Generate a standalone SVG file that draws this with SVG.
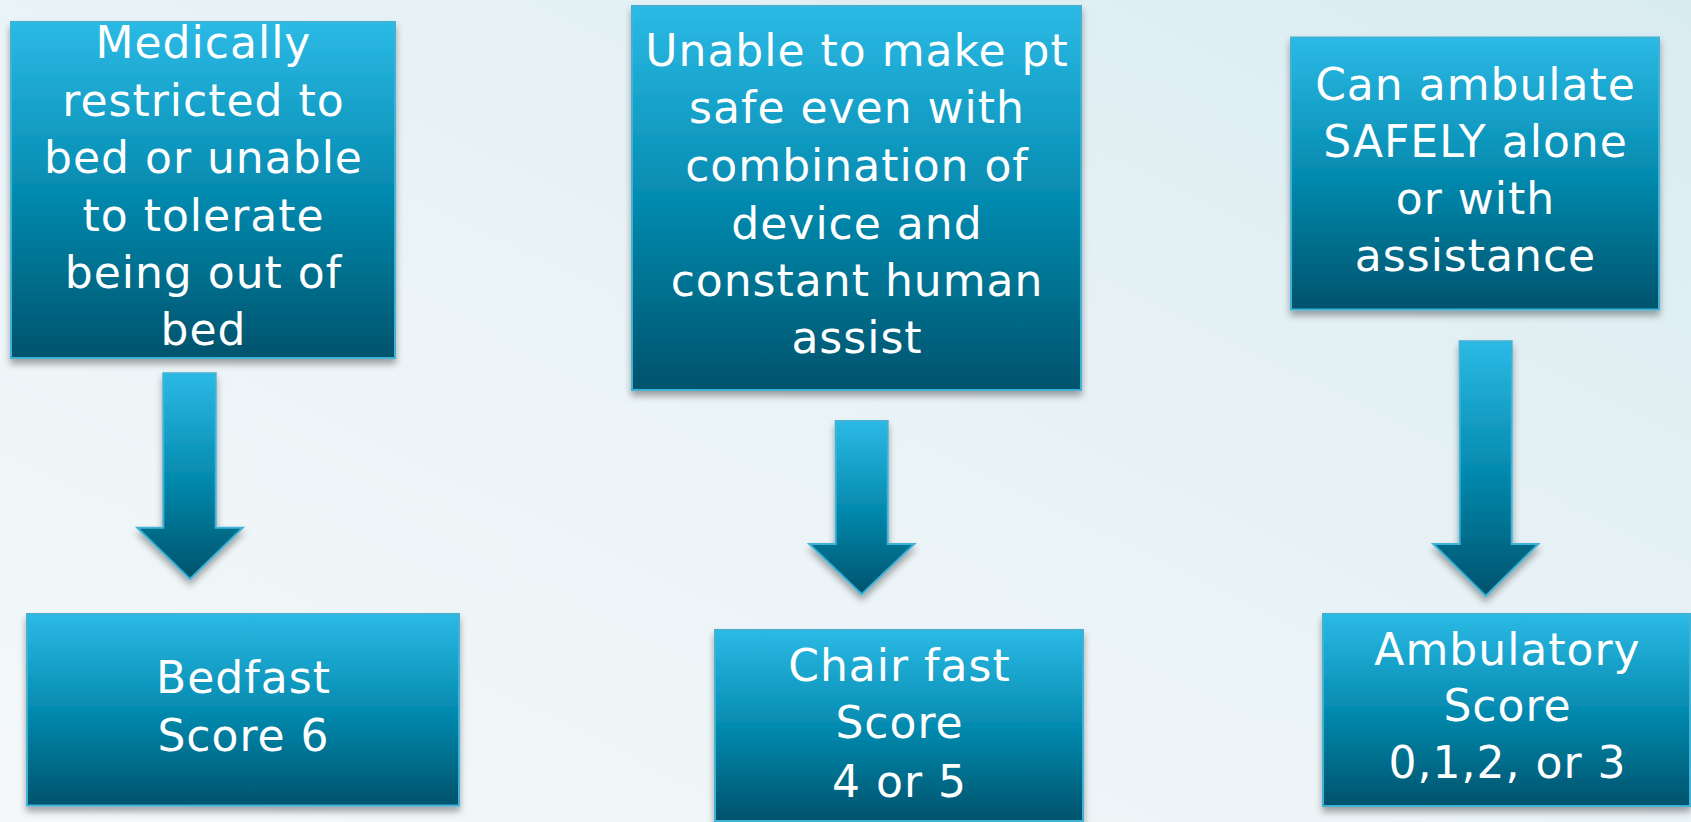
<svg xmlns="http://www.w3.org/2000/svg" width="1691" height="822" viewBox="0 0 1691 822">
<defs>
<linearGradient id="bg" x1="0" y1="1" x2="1" y2="0">
<stop offset="0" stop-color="#F4F8FA"/>
<stop offset="0.5" stop-color="#EAF3F6"/>
<stop offset="1" stop-color="#D9ECF1"/>
</linearGradient>
<linearGradient id="fill" x1="0" y1="0" x2="0" y2="1">
<stop offset="0" stop-color="#2BBAE5"/>
<stop offset="0.5" stop-color="#058BB0"/>
<stop offset="1" stop-color="#01536C"/>
</linearGradient>
<filter id="sh" x="-10%" y="-10%" width="120%" height="125%">
<feDropShadow dx="0" dy="5" stdDeviation="3.5" flood-color="#000" flood-opacity="0.35"/>
</filter>
</defs>
<style>
.box{fill:url(#fill);stroke:#3FB2D6;stroke-width:2;filter:url(#sh)}
.arr{fill:url(#fill);stroke:#3FB2D6;stroke-width:2;stroke-linejoin:miter;filter:url(#sh)}
text{font-family:"DejaVu Sans",sans-serif;font-size:44px;fill:#FFFFFF;text-anchor:middle;letter-spacing:1px}
</style>
<rect width="1691" height="822" fill="url(#bg)"/>
<g id="connectors">
<path class="arr" d="M163.3,373.3 H215.7 V527.7 H242.7 L190,579 L137.3,527.7 H163.3 Z"/>
<path class="arr" d="M835.7,421 H887.7 V544 H914.3 L861.7,594.3 L809.3,544 H835.7 Z"/>
<path class="arr" d="M1459.7,341.3 H1511.7 V544 H1538.3 L1485.7,596 L1433.3,544 H1459.7 Z"/>
</g>
<g id="node-medically">
<rect class="box" x="11" y="22" width="384" height="336"/>
<text x="203.5" y="58">Medically</text>
<text x="203.5" y="116">restricted to</text>
<text x="203.5" y="173">bed or unable</text>
<text x="203.5" y="231">to tolerate</text>
<text x="203.5" y="288">being out of</text>
<text x="203.5" y="345">bed</text>
</g>
<g id="node-unable">
<rect class="box" x="632" y="6" width="449" height="384"/>
<text x="857" y="66">Unable to make pt</text>
<text x="857" y="123">safe even with</text>
<text x="857" y="181">combination of</text>
<text x="857" y="238.5">device and</text>
<text x="857" y="296">constant human</text>
<text x="857" y="353">assist</text>
</g>
<g id="node-ambulate">
<rect class="box" x="1291" y="37.5" width="368" height="272"/>
<text x="1475.5" y="100">Can ambulate</text>
<text x="1475.5" y="157">SAFELY alone</text>
<text x="1475.5" y="214">or with</text>
<text x="1475.5" y="271">assistance</text>
</g>
<g id="node-bedfast">
<rect class="box" x="27" y="614" width="432" height="191.5"/>
<text x="243.5" y="692.5">Bedfast</text>
<text x="243.5" y="751">Score 6</text>
</g>
<g id="node-chairfast">
<rect class="box" x="715" y="630" width="368" height="191"/>
<text x="899.5" y="681">Chair fast</text>
<text x="899.5" y="738">Score</text>
<text x="899.5" y="796.5">4 or 5</text>
</g>
<g id="node-ambulatory">
<rect class="box" x="1323" y="614" width="367" height="192"/>
<text x="1507.5" y="665">Ambulatory</text>
<text x="1507.5" y="721">Score</text>
<text x="1507.5" y="778">0,1,2, or 3</text>
</g>
</svg>
